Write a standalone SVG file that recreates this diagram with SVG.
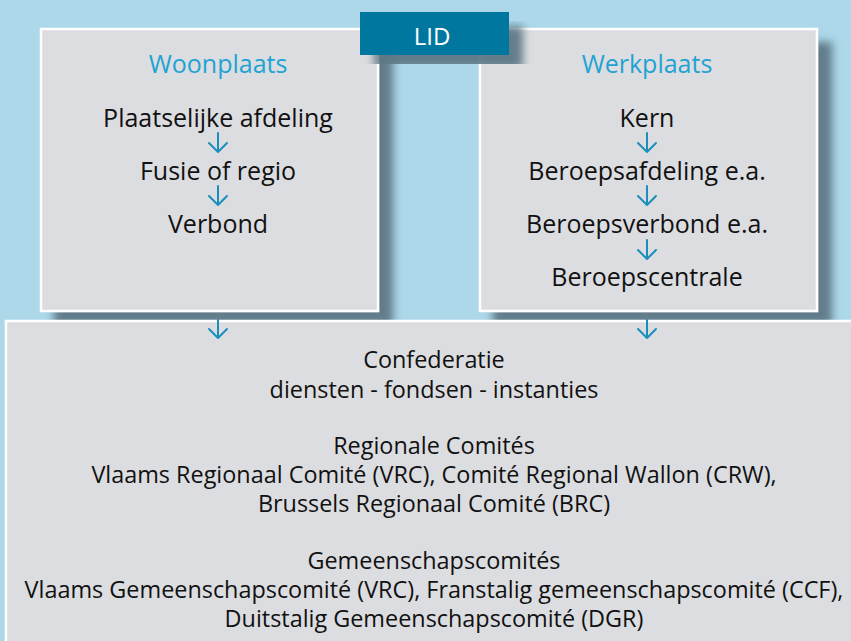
<svg xmlns="http://www.w3.org/2000/svg" width="851" height="641" viewBox="0 0 851 641">
  <defs>
    <filter id="shadow" x="-10%" y="-10%" width="130%" height="130%">
      <feGaussianBlur in="SourceAlpha" stdDeviation="4"/>
      <feOffset dx="14" dy="14" result="b"/>
      <feFlood flood-color="#5e7886" flood-opacity="0.95"/>
      <feComposite in2="b" operator="in" result="s"/>
      <feMerge><feMergeNode in="s"/><feMergeNode in="SourceGraphic"/></feMerge>
    </filter>
  </defs>
  <style>
    .box { fill: #dcdde0; stroke: #ffffff; stroke-width: 2.5; }
    .t { font-family: "Open Sans", "Noto Sans", sans-serif; font-size: 25px; fill: #111111; text-anchor: middle; }
    .b { font-family: "Open Sans", "Noto Sans", sans-serif; font-size: 23.4px; fill: #111111; text-anchor: middle; }
    .h { font-family: "Open Sans", "Noto Sans", sans-serif; font-size: 25px; fill: #1ea3d3; text-anchor: middle; }
    .lid { font-family: "Open Sans", "Noto Sans", sans-serif; font-size: 24px; fill: #ffffff; text-anchor: middle; }
    .arr { fill: none; stroke: #1b8fbb; stroke-width: 2; stroke-linecap: round; stroke-linejoin: round; }
  </style>
  <rect x="0" y="0" width="851" height="641" fill="#acd8ea"/>

  <g id="woonplaats">
    <rect class="box" x="41" y="29" width="337" height="282" filter="url(#shadow)"/>
    <text class="h" x="218" y="73">Woonplaats</text>
    <text class="t" x="218" y="127">Plaatselijke afdeling</text>
    <text class="t" x="218" y="180">Fusie of regio</text>
    <text class="t" x="218" y="233">Verbond</text>
  </g>

  <g id="werkplaats">
    <rect class="box" x="480" y="29" width="337" height="282" filter="url(#shadow)"/>
    <text class="h" x="647" y="73">Werkplaats</text>
    <text class="t" x="647" y="127">Kern</text>
    <text class="t" x="647" y="180">Beroepsafdeling e.a.</text>
    <text class="t" x="647" y="233">Beroepsverbond e.a.</text>
    <text class="t" x="647" y="286">Beroepscentrale</text>
  </g>

  <g id="lid">
    <rect x="360" y="12" width="149" height="43" fill="#00779f" filter="url(#shadow)"/>
    <text class="lid" x="432" y="45">LID</text>
  </g>

  <g id="confederatie">
    <rect class="box" x="6" y="321" width="870" height="340"/>
    <text class="b" x="434" y="368">Confederatie</text>
    <text class="b" x="434" y="398">diensten - fondsen - instanties</text>
    <text class="b" x="434" y="454">Regionale Comités</text>
    <text class="b" x="434" y="483">Vlaams Regionaal Comité (VRC), Comité Regional Wallon (CRW),</text>
    <text class="b" x="434" y="512">Brussels Regionaal Comité (BRC)</text>
    <text class="b" x="434" y="569">Gemeenschapscomités</text>
    <text class="b" x="434" y="598">Vlaams Gemeenschapscomité (VRC), Franstalig gemeenschapscomité (CCF),</text>
    <text class="b" x="434" y="627">Duitstalig Gemeenschapscomité (DGR)</text>
  </g>

  <g id="connectors">
    <path class="arr" d="M218 133 V152 M209 143 L218 152 L227 143"/>
    <path class="arr" d="M218 186 V205 M209 196 L218 205 L227 196"/>
    <path class="arr" d="M647 133 V152 M638 143 L647 152 L656 143"/>
    <path class="arr" d="M647 186 V205 M638 196 L647 205 L656 196"/>
    <path class="arr" d="M647 240 V259 M638 250 L647 259 L656 250"/>
    <path class="arr" d="M218 320 V338 M209 329 L218 338 L227 329"/>
    <path class="arr" d="M647 320 V338 M638 329 L647 338 L656 329"/>
  </g>
</svg>
